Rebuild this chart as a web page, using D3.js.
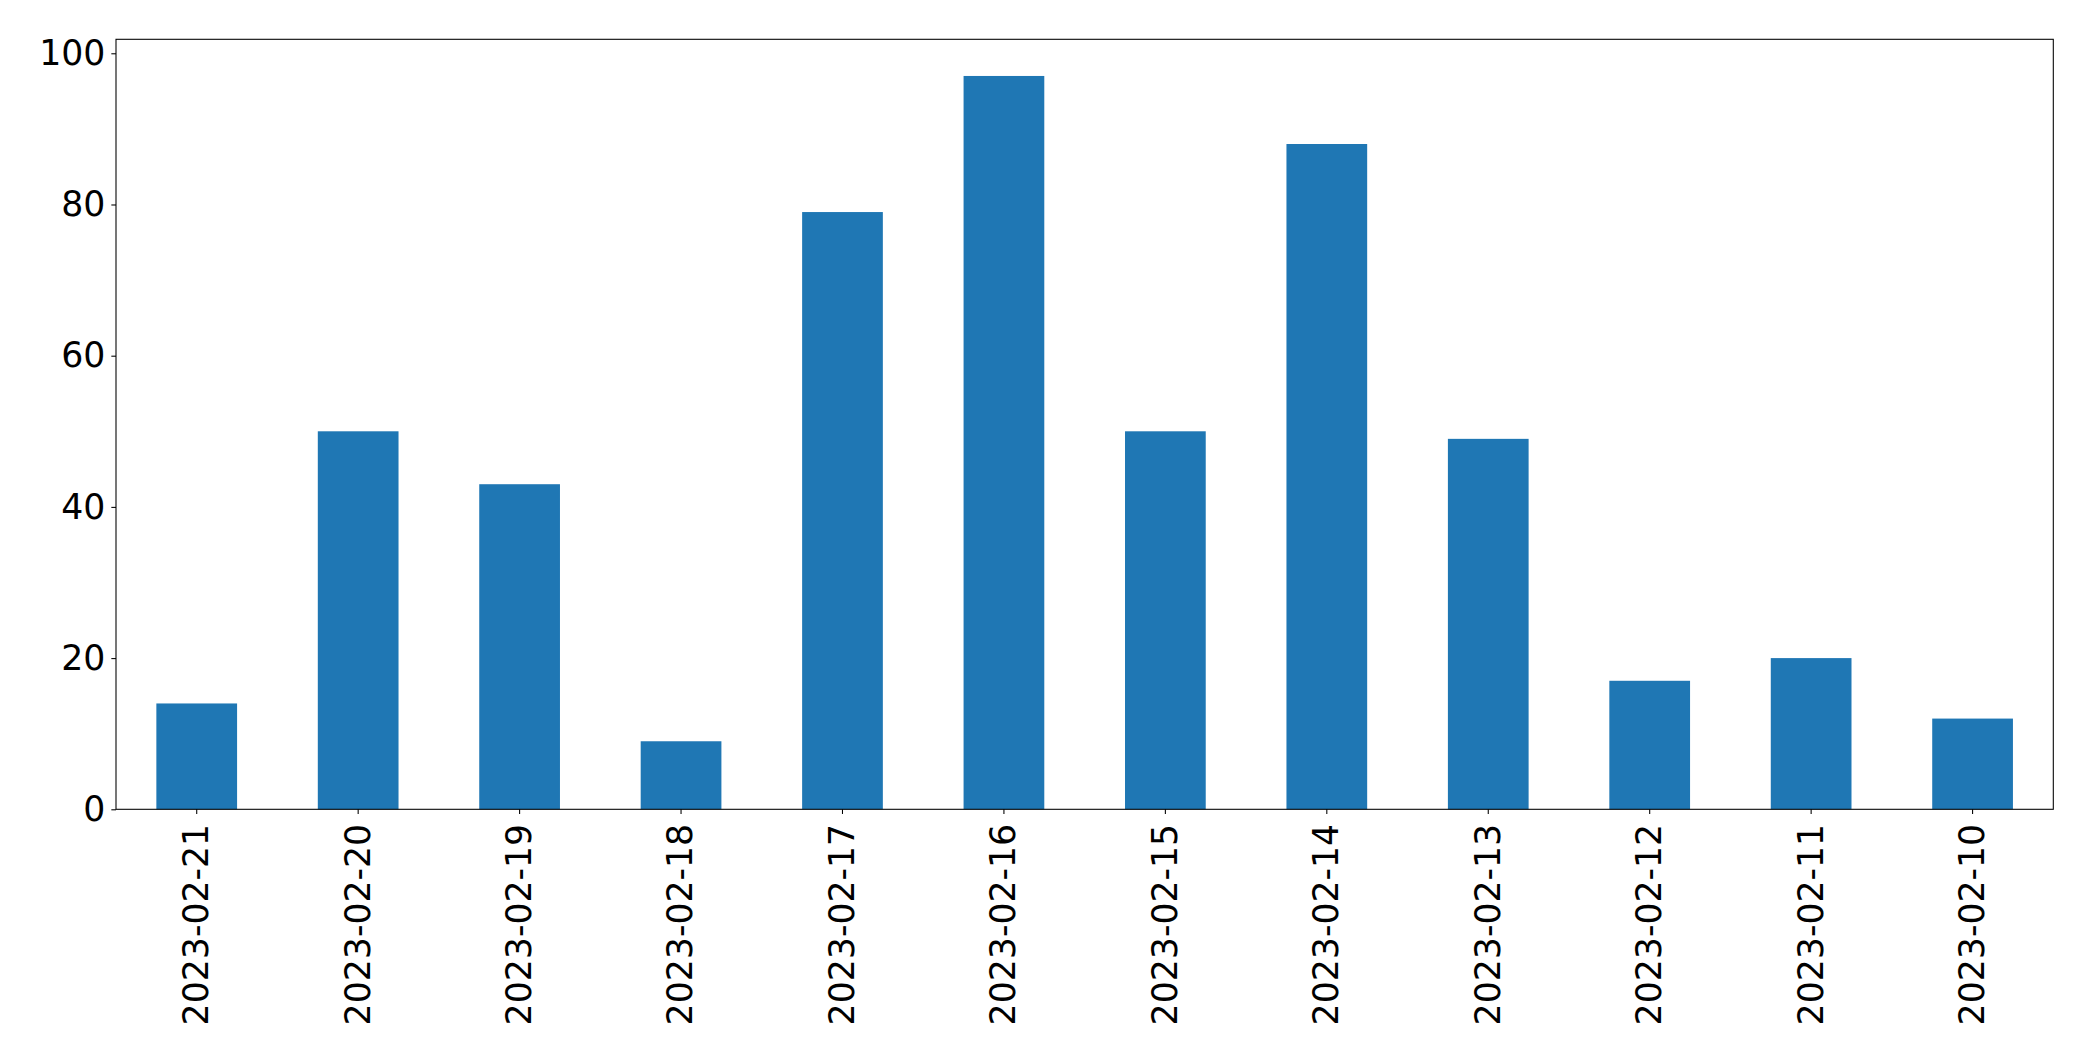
<!DOCTYPE html>
<html><head><meta charset="utf-8">
<script src="https://cdn.jsdelivr.net/npm/d3@7"></script>
<style>html,body{margin:0;padding:0;background:#fff;}svg{display:block;}</style>
</head><body>
<script>
const categories = ["2023-02-21","2023-02-20","2023-02-19","2023-02-18","2023-02-17","2023-02-16","2023-02-15","2023-02-14","2023-02-13","2023-02-12","2023-02-11","2023-02-10"];
const values = [14, 50, 43, 9, 79, 97, 50, 88, 49, 17, 20, 12];
const yTicks = [0, 20, 40, 60, 80, 100];

const W = 2093, H = 1061;
const mL = 116, mR = 2053.3, mT = 39.3, mB = 809.3;
const svg = d3.select("body").append("svg").attr("width", W).attr("height", H);

const x = d3.scaleBand().domain(categories).range([mL, mR]).paddingInner(0.5).paddingOuter(0.25);
const y = d3.scaleLinear().domain([0, d3.max(values) * 1.05]).range([mB, mT]);

svg.append("g").selectAll("rect").data(values).join("rect")
  .attr("x", (d, i) => x(categories[i]))
  .attr("width", x.bandwidth())
  .attr("y", d => y(d))
  .attr("height", d => y(0) - y(d))
  .attr("fill", "#1f77b4");

const font = "DejaVu Sans";
const fs = 34.7;

const yAxis = svg.append("g").attr("transform", `translate(${mL},0)`)
  .call(d3.axisLeft(y).tickValues(yTicks).tickSize(4.67).tickPadding(6).tickFormat(d3.format("d")));
yAxis.select(".domain").remove();
yAxis.selectAll("line").attr("stroke", "#000").attr("stroke-width", 1.07);
yAxis.selectAll("text").attr("font-family", font).attr("font-size", fs).attr("fill", "#000");

const xAxis = svg.append("g").attr("transform", `translate(0,${mB})`)
  .call(d3.axisBottom(x).tickSize(4.67).tickPadding(0));
xAxis.select(".domain").remove();
xAxis.selectAll("line").attr("stroke", "#000").attr("stroke-width", 1.07);
xAxis.selectAll("text")
  .attr("font-family", font).attr("font-size", fs).attr("fill", "#000")
  .attr("transform", "rotate(-90)")
  .attr("text-anchor", "end")
  .attr("x", -14.5).attr("y", 0).attr("dy", "0.33em");

svg.append("rect").attr("x", mL).attr("y", mT).attr("width", mR - mL).attr("height", mB - mT)
  .attr("fill", "none").attr("stroke", "#000").attr("stroke-width", 1.07);
</script>
</body></html>
